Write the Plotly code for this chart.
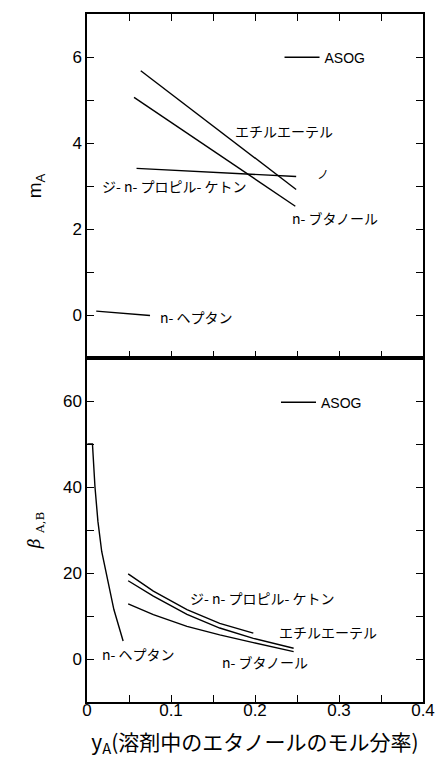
import plotly.graph_objects as go

# ---------------- data: top panel (m_A) ----------------
x_ether_m = [0.064, 0.249]
m_ether = [5.68, 2.92]
x_butanol_m = [0.056, 0.248]
m_butanol = [5.06, 2.53]
x_ketone_m = [0.059, 0.249]
m_ketone = [3.41, 3.22]
x_heptane_m = [0.011, 0.075]
m_heptane = [0.09, -0.01]

# ---------------- data: bottom panel (beta_A,B) ----------------
x_heptane_b = [0.0005, 0.0065, 0.0095, 0.013, 0.0175, 0.0234, 0.032, 0.043]
b_heptane = [50, 50, 40, 32, 25, 19.2, 11.5, 4.2]
x_ketone_b = [0.049, 0.079, 0.119, 0.158, 0.198]
b_ketone = [19.8, 15.8, 11.5, 8.3, 6.0]
x_ether_b = [0.049, 0.079, 0.119, 0.158, 0.198, 0.246]
b_ether = [18.2, 14.6, 10.4, 7.2, 4.8, 2.5]
x_butanol_b = [0.049, 0.079, 0.119, 0.158, 0.198, 0.246]
b_butanol = [12.8, 10.3, 7.6, 5.6, 3.8, 1.7]

legend_name = "ASOG"

# labels (text, x, y) per panel
top_labels = ["エチルエーテル", "ジ- n- プロピル- ケトン", "n- ブタノール", "n- ヘプタン", "ノ"]
top_label_x = [0.174, 0.0155, 0.2417, 0.0845, 0.272]
top_label_y = [4.29, 3.0, 2.25, -0.05, 3.3]

bot_labels = ["ジ- n- プロピル- ケトン", "エチルエーテル", "n- ブタノール", "n- ヘプタン"]
bot_label_x = [0.120, 0.226, 0.158, 0.0155]
bot_label_y = [14.3, 6.3, -0.6, 1.2]

x_title = "y<sub>A</sub>(溶剤中のエタノールのモル分率)"
y_title_top = "m<sub>A</sub>"
y_title_bot = "<i>β</i> <sub>A,B</sub>"

FONT = "Liberation Sans, Arial, Noto Sans CJK JP, sans-serif"
JFONT = "Noto Sans CJK JP, Liberation Sans, sans-serif"
LINE = dict(color="black", width=1.4)

fig = go.Figure()

top_series = [(x_ether_m, m_ether), (x_butanol_m, m_butanol),
              (x_ketone_m, m_ketone), (x_heptane_m, m_heptane)]
for i, (xs, ys) in enumerate(top_series):
    fig.add_trace(go.Scatter(x=xs, y=ys, mode="lines", line=LINE,
                             xaxis="x2", yaxis="y2", name=legend_name,
                             showlegend=(i == 0), legend="legend"))

bot_series = [(x_heptane_b, b_heptane), (x_ketone_b, b_ketone),
              (x_ether_b, b_ether), (x_butanol_b, b_butanol)]
for i, (xs, ys) in enumerate(bot_series):
    fig.add_trace(go.Scatter(x=xs, y=ys, mode="lines", line=LINE,
                             xaxis="x", yaxis="y", name=legend_name,
                             showlegend=(i == 0), legend="legend2"))

annotations = []
for t, xv, yv in zip(top_labels, top_label_x, top_label_y):
    annotations.append(dict(text=t, x=xv, y=yv, xref="x2", yref="y2",
                            xanchor="left", yanchor="middle", showarrow=False,
                            font=dict(family=JFONT, size=14 if t != "ノ" else 12, color="black")))
for t, xv, yv in zip(bot_labels, bot_label_x, bot_label_y):
    annotations.append(dict(text=t, x=xv, y=yv, xref="x", yref="y",
                            xanchor="left", yanchor="middle", showarrow=False,
                            font=dict(family=JFONT, size=14, color="black")))

common_axis = dict(showline=True, linecolor="black", linewidth=1.5,
                   ticks="inside", ticklen=7, tickwidth=1.2, tickcolor="black",
                   showgrid=False, zeroline=False, automargin=False,
                   tickfont=dict(family=FONT, size=17, color="black"))

# the page body adds an 8px offset, so the figure is sized to the visible area
fig.update_layout(
    width=435, height=757,
    margin=dict(l=79, r=20, t=6, b=63),
    paper_bgcolor="white", plot_bgcolor="white",
    font=dict(family=FONT, color="black"),
    xaxis=dict(domain=[0, 1], anchor="y", range=[0, 0.4], dtick=0.1, mirror=True,
               ticklabelstandoff=-8,
               minor=dict(dtick=0.05, ticks="inside", ticklen=7, tickcolor="black"),
               title=dict(text=x_title, font=dict(family=JFONT, size=21, color="black"),
                          standoff=16),
               **common_axis),
    yaxis=dict(domain=[0, 0.5], anchor="x", range=[-10, 70], dtick=20, mirror="ticks",
               minor=dict(dtick=10, ticks="inside", ticklen=7, tickcolor="black"),
               title=dict(text=y_title_bot, font=dict(family="DejaVu Serif, serif", size=17, color="black"),
                          standoff=18),
               **common_axis),
    xaxis2=dict(domain=[0, 1], anchor="y2", range=[0, 0.4], dtick=0.1, mirror="ticks",
                matches="x", showticklabels=False,
                minor=dict(dtick=0.05, ticks="inside", ticklen=7, tickcolor="black"),
                **common_axis),
    yaxis2=dict(domain=[0.5, 1], anchor="x2", range=[-1, 7], dtick=2, mirror="ticks",
                minor=dict(dtick=1, ticks="inside", ticklen=7, tickcolor="black"),
                title=dict(text=y_title_top, font=dict(family=FONT, size=19, color="black"),
                           standoff=26),
                **common_axis),
    legend=dict(x=0.573, y=0.9365, xanchor="left", yanchor="middle", itemwidth=35,
                bgcolor="rgba(0,0,0,0)", borderwidth=0,
                font=dict(family=FONT, size=14, color="black")),
    legend2=dict(x=0.5625, y=0.435, xanchor="left", yanchor="middle", itemwidth=35,
                 bgcolor="rgba(0,0,0,0)", borderwidth=0,
                 font=dict(family=FONT, size=14, color="black")),
    annotations=annotations,
)

fig.write_html("out.html")
